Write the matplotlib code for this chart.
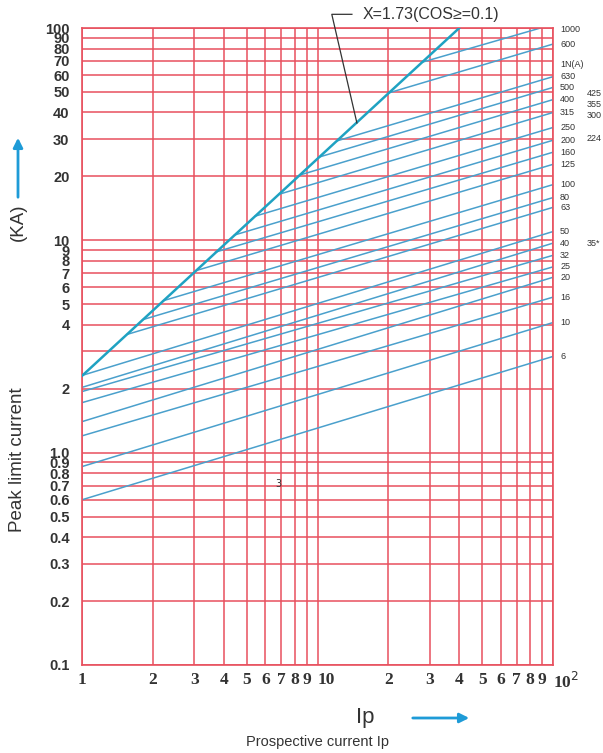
import numpy as np
import matplotlib
matplotlib.use('Agg')
import matplotlib.pyplot as plt
from matplotlib.transforms import blended_transform_factory

# rated current lines (In, A): start point and value at Ip = 100
ratings = ['6', '10', '16', '20', '25', '32', '40', '50', '63', '80', '100',
           '125', '160', '200', '250', '315', '400', '500', '630', '600', '1000']
start_ip = [1, 1, 1, 1, 1, 1, 1, 1, 1.56, 1.81, 2.22,
            3.05, 3.69, 4.45, 5.44, 6.89, 8.41, 10.2, 12.1, 20.1, 27.7]
start_ka = [0.60, 0.86, 1.20, 1.40, 1.72, 1.94, 2.03, 2.31, 3.61, 4.23, 5.2,
            7.2, 8.8, 10.6, 13.0, 16.5, 20.3, 24.7, 29.4, 49.5, 68.9]
end_ka = [2.84, 4.1, 5.4, 6.7, 7.5, 8.5, 9.7, 11.0, 14.3, 15.9, 18.3,
          22.8, 26.0, 29.6, 34.0, 40.0, 46.0, 52.5, 59.0, 84.0, 104.0]

# envelope X = 1.73
env_ip = [1, 40]
env_ka = [2.3, 100]

# second column of labels
extra_labels = ['425', '355', '300', '224', '35*']
extra_ka = [49.4, 43.8, 38.9, 30.3, 9.7]

x_grid = [1, 2, 3, 4, 5, 6, 7, 8, 9, 10, 20, 30, 40, 50, 60, 70, 80, 90, 100]
x_labels = ['1', '2', '3', '4', '5', '6', '7', '8', '9', '10',
            '2', '3', '4', '5', '6', '7', '8', '9', '10$^2$']
y_grid = [0.1, 0.2, 0.3, 0.4, 0.5, 0.6, 0.7, 0.8, 0.9, 1, 2, 3, 4, 5, 6, 7, 8, 9,
          10, 20, 30, 40, 50, 60, 70, 80, 90, 100]
y_labels = ['0.1', '0.2', '0.3', '0.4', '0.5', '0.6', '0.7', '0.8', '0.9', '1.0',
            '2', '', '4', '5', '6', '7', '8', '9',
            '10', '20', '30', '40', '50', '60', '70', '80', '90', '100']

red = '#e8505e'
blue = '#4aa0cc'
teal = '#1fa2c2'
txt = '#333333'

fig = plt.figure(figsize=(6.03, 7.53), dpi=100)
ax = fig.add_axes([82/603, 1-665/753, (553-82)/603, (665-28)/753])
ax.set_xscale('log')
ax.set_yscale('log')
ax.set_xlim(1, 100)
ax.set_ylim(0.1, 100)

for v in x_grid:
    ax.axvline(v, color=red, lw=1.1, zorder=1)
for v in y_grid:
    ax.axhline(v, color=red, lw=1.1, zorder=1)
for s in ax.spines.values():
    s.set_color(red)
    s.set_linewidth(1.2)

ax.xaxis.set_minor_locator(matplotlib.ticker.NullLocator())
ax.yaxis.set_minor_locator(matplotlib.ticker.NullLocator())
ax.set_xticks(x_grid)
ax.set_xticklabels(x_labels, fontfamily='Liberation Serif', fontweight='bold',
                   fontsize=12.5, color=txt)
for lab in ax.get_xticklabels():
    if lab.get_text() in ('10', '10$^2$'):
        lab.set_ha('left')
ax.set_yticks(y_grid)
ax.set_yticklabels(y_labels, fontfamily='Liberation Sans', fontweight='bold',
                   fontsize=10.5, color=txt)
ax.tick_params(length=0, pad=5)
ax.tick_params(axis='y', pad=9)

# rating lines
for i in range(len(ratings)):
    ax.plot([start_ip[i], 100], [start_ka[i], end_ka[i]], color=blue, lw=1.1, zorder=2)
ax.plot(env_ip, env_ka, color=teal, lw=1.8, zorder=3)

# right-hand labels
tr = blended_transform_factory(ax.transAxes, ax.transData)
for lab, v in zip(ratings, end_ka):
    ax.text(1.015, min(v, 98.6), lab, transform=tr, fontsize=6.5, color=txt,
            va='center', ha='left', fontfamily='Liberation Sans')
ax.text(1.015, 67, '1N(A)', transform=tr, fontsize=6.5, color=txt,
        va='center', ha='left', fontfamily='Liberation Sans')
for lab, v in zip(extra_labels, extra_ka):
    ax.text(1.072, v, lab, transform=tr, fontsize=6.5, color=txt,
            va='center', ha='left', fontfamily='Liberation Sans')

ax.text(6.8, 0.71, '3', fontsize=7, color=txt, ha='center', va='center')

# envelope annotation
ax.plot([14.0, 11.5, 14.7], [116, 116, 35.7], color='#333333', lw=0.9,
        clip_on=False, zorder=4)
ax.text(15.6, 116, 'X=1.73(COS\u2265=0.1)', fontsize=11.5, color=txt,
        va='center', ha='left', fontfamily='Liberation Sans')

# axis titles
fig.text(18/603, 1-460/753, 'Peak limit current', rotation=90, fontsize=13.5,
         color=txt, ha='center', va='center', fontfamily='Liberation Sans')
fig.text(18/603, 1-222/753, '(KA)', rotation=90, fontsize=13.5,
         color=txt, ha='center', va='center', fontfamily='Liberation Sans')
ax.annotate('', xy=(18, 753-135), xytext=(18, 753-200), xycoords='figure pixels',
            textcoords='figure pixels',
            arrowprops=dict(arrowstyle='-|>', color='#1e9bd7', lw=2, mutation_scale=14))
fig.text(365/603, 1-718/753, 'Ip', fontsize=16, color=txt, ha='center',
         va='center', fontfamily='Liberation Sans')
ax.annotate('', xy=(472, 753-718), xytext=(410, 753-718), xycoords='figure pixels',
            textcoords='figure pixels',
            arrowprops=dict(arrowstyle='-|>', color='#1e9bd7', lw=2, mutation_scale=14))
fig.text(317/603, 1-742/753, 'Prospective current Ip', fontsize=10.5, color=txt,
         ha='center', va='center', fontfamily='Liberation Sans')

fig.savefig('out.png', dpi=100)
